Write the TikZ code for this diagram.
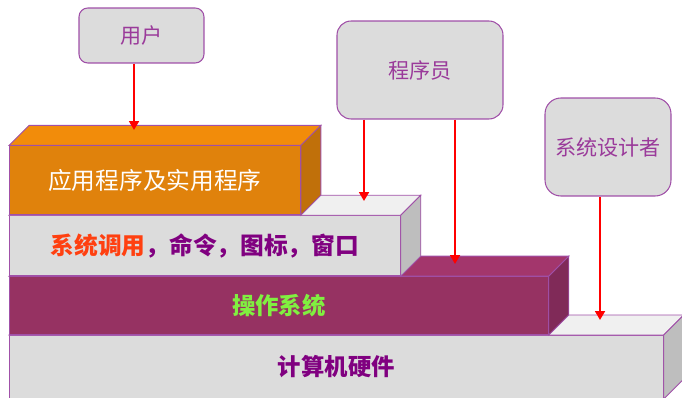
\documentclass[tikz,border=0pt]{standalone}
\usepackage{fontspec}
\usepackage{xcolor}
\newfontfamily\cjk{Noto Sans CJK SC}
\usetikzlibrary{arrows.meta,positioning}
\definecolor{edge}{HTML}{A050A8}
\definecolor{rolegray}{HTML}{DCDCDC}
\definecolor{roletext}{HTML}{9A3A9A}
\definecolor{AppF}{HTML}{E0820C}
\definecolor{AppT}{HTML}{F28C0A}
\definecolor{AppS}{HTML}{C0700A}
\definecolor{GrayF}{HTML}{DCDCDC}
\definecolor{GrayT}{HTML}{F0F0F0}
\definecolor{GrayS}{HTML}{BEBEBE}
\definecolor{OsF}{HTML}{963262}
\definecolor{OsT}{HTML}{A3366C}
\definecolor{OsS}{HTML}{802A58}
\definecolor{callred}{HTML}{FF4010}
\definecolor{txtpurple}{HTML}{800080}
\definecolor{osgreen}{HTML}{80F040}
\tikzset{
  role/.style={draw=edge, fill=rolegray, line width=0.6pt, rounded corners=8pt,
    text=roletext, font=\cjk\fontsize{12}{14}\selectfont},
  layer/.style={draw=edge, line width=0.5pt, inner sep=0pt},
  face/.style={draw=edge, line width=0.5pt},
  call/.style={draw=red, line width=1.3pt, -{Triangle[width=5.5pt,length=5pt]}},
}

\begin{document}
\begin{tikzpicture}[x=0.02cm,y=-0.02cm]%
\clip (0,0) rectangle (682,398);%
% hardware
\node[layer, fill=GrayF, anchor=north west, minimum width=13.08cm, minimum height=1.26cm,
  text=txtpurple, font=\cjk\bfseries\fontsize{13.3}{15}\selectfont] (hw) at (9,335) {计算机硬件};%
\draw[face, fill=GrayT] (hw.north west) -- ++(20,-20) -- ([shift={(20,-20)}]hw.north east) -- (hw.north east) -- cycle;%
\draw[face, fill=GrayS] (hw.north east) -- ++(20,-20) -- ([shift={(20,-20)}]hw.south east) -- (hw.south east) -- cycle;%
% operating system
\node[layer, fill=OsF, anchor=south west, minimum width=10.78cm, minimum height=1.16cm,
  text=osgreen, font=\cjk\bfseries\fontsize{13.3}{15}\selectfont] (os) at (hw.north west) {操作系统};%
\draw[face, fill=OsT] (os.north west) -- ++(20,-20) -- ([shift={(20,-20)}]os.north east) -- (os.north east) -- cycle;%
\draw[face, fill=OsS] (os.north east) -- ++(20,-20) -- ([shift={(20,-20)}]os.south east) -- (os.south east) -- cycle;%
% system calls
\node[layer, fill=GrayF, anchor=south west, minimum width=7.82cm, minimum height=1.2cm,
  text=txtpurple, font=\cjk\bfseries\fontsize{13.5}{15}\selectfont] (calls) at (os.north west)
  {\textcolor{callred}{系统调用}，命令，图标，窗口};%
\draw[face, fill=GrayT] (calls.north west) -- ++(20,-20) -- ([shift={(20,-20)}]calls.north east) -- (calls.north east) -- cycle;%
\draw[face, fill=GrayS] (calls.north east) -- ++(20,-20) -- ([shift={(20,-20)}]calls.south east) -- (calls.south east) -- cycle;%
% applications
\node[layer, fill=AppF, anchor=south west, minimum width=5.82cm, minimum height=1.38cm,
  text=white, font=\cjk\fontsize{13.5}{15}\selectfont] (app) at (calls.north west) {应用程序及实用程序};%
\draw[face, fill=AppT] (app.north west) -- ++(20,-20) -- ([shift={(20,-20)}]app.north east) -- (app.north east) -- cycle;%
\draw[face, fill=AppS] (app.north east) -- ++(20,-20) -- ([shift={(20,-20)}]app.south east) -- (app.south east) -- cycle;%
% roles
\node[role, rounded corners=5pt, minimum width=2.5cm, minimum height=1.1cm] (user) at (141.5,35.5) {用户};%
\node[role, minimum width=3.32cm, minimum height=1.96cm] (prog) at (420,70) {程序员};%
\node[role, rounded corners=9pt, minimum width=2.52cm, minimum height=1.96cm] (designer) at (608,147) {系统设计者};%
% arrows
\coordinate (appIn) at (134,130);%
\coordinate (callsIn) at (364,201);%
\coordinate (osIn) at (455,264);%
\coordinate (hwIn) at (600,320);%
\draw[call] (user.south -| appIn) -- (appIn);%
\draw[call] (prog.south -| callsIn) -- (callsIn);%
\draw[call] (prog.south -| osIn) -- (osIn);%
\draw[call] (designer.south -| hwIn) -- (hwIn);%
\end{tikzpicture}
\end{document}
